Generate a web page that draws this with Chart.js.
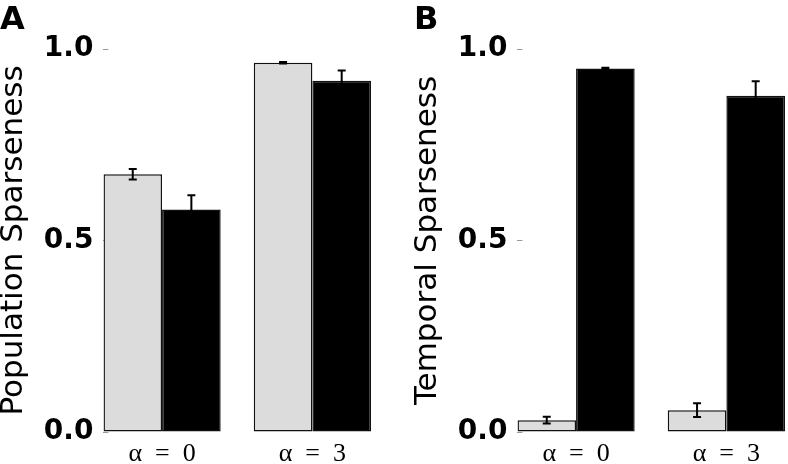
<!DOCTYPE html>
<html lang="en">
<head>
<meta charset="UTF-8">
<title>Population and temporal sparseness</title>
<script src="https://cdn.jsdelivr.net/npm/chart.js"></script>
<style>
  html, body { margin: 0; padding: 0; background: #fff; overflow: hidden; }
  body { width: 788px; height: 464px; position: relative; }
  canvas { position: absolute; top: 0; }
  #chartA { left: 0; }
  #chartB { left: 414px; }
</style>
</head>
<body>
<canvas id="chartA" width="400" height="476"></canvas>
<canvas id="chartB" width="374" height="476"></canvas>
<script>
// categories (placed at 0 and 1 on a linear x axis)
const alphaLabels = ['α\u2002=\u20020', 'α\u2002=\u20023'];
const alphaPositions = [0, 1];
const yTicks = [0, 0.5, 1.0];

// panel A: population sparseness
const popLight = [0.673, 0.964];
const popLightErr = [0.014, 0.002];
const popDark = [0.581, 0.917];
const popDarkErr = [0.037, 0.027];

// panel B: temporal sparseness
const tempLight = [0.031, 0.057];
const tempLightErr = [0.009, 0.018];
const tempDark = [0.949, 0.878];
const tempDarkErr = [0.002, 0.038];

const errorBars = {
  id: 'errorBars',
  afterDatasetsDraw(chart) {
    const ctx = chart.ctx;
    const yScale = chart.scales.y;
    chart.data.datasets.forEach((ds, i) => {
      const meta = chart.getDatasetMeta(i);
      meta.data.forEach((bar, j) => {
        const v = ds.data[j].y;
        const e = ds.errors[j];
        const top = yScale.getPixelForValue(v + e);
        const bot = yScale.getPixelForValue(v - e);
        ctx.save();
        ctx.strokeStyle = '#000';
        ctx.lineWidth = 2;
        ctx.beginPath();
        ctx.moveTo(bar.x, top); ctx.lineTo(bar.x, bot);
        ctx.moveTo(bar.x - 4, top); ctx.lineTo(bar.x + 4, top);
        ctx.moveTo(bar.x - 4, bot); ctx.lineTo(bar.x + 4, bot);
        ctx.stroke();
        ctx.restore();
      });
    });
  }
};

function points(values) {
  return values.map((v, i) => ({ x: alphaPositions[i], y: v }));
}

function makeChart(id, letter, yTitle, light, lightErr, dark, darkErr, padRight) {
  const barStyle = {
    borderColor: '#111',
    borderWidth: 1.5,
    borderSkipped: false,
    categoryPercentage: 0.78,
    barPercentage: 1.0
  };
  new Chart(document.getElementById(id), {
    type: 'bar',
    data: {
      datasets: [
        Object.assign({ data: points(light), errors: lightErr, backgroundColor: '#dcdcdc' }, barStyle),
        Object.assign({ data: points(dark), errors: darkErr, backgroundColor: '#000' }, barStyle)
      ]
    },
    options: {
      responsive: false,
      animation: false,
      layout: { padding: { left: 0, right: padRight, top: 0, bottom: 0 } },
      plugins: {
        legend: { display: false },
        tooltip: { enabled: false },
        title: {
          display: true,
          text: letter,
          align: 'start',
          color: '#000',
          font: { family: 'DejaVu Sans', size: 32, weight: 'bold', lineHeight: 1 },
          padding: { top: 5, bottom: 12 }
        }
      },
      scales: {
        x: {
          type: 'linear',
          offset: false,
          min: -0.39,
          max: 1.39,
          afterBuildTicks: s => { s.ticks = alphaPositions.map(v => ({ value: v })); },
          ticks: {
            callback: (v, i) => alphaLabels[i],
            color: '#000',
            font: { family: 'Liberation Serif', size: 26, lineHeight: 1 },
            padding: 9,
            maxRotation: 0
          },
          grid: { display: false, drawTicks: false },
          border: { display: false }
        },
        y: {
          min: 0,
          max: 1,
          afterBuildTicks: s => { s.ticks = yTicks.map(v => ({ value: v })); },
          ticks: {
            callback: v => v.toFixed(1),
            color: '#000',
            font: { family: 'DejaVu Sans', size: 28, weight: 'bold' },
            padding: 15
          },
          grid: { drawOnChartArea: false, tickLength: -5, tickColor: '#999', tickWidth: 1 },
          border: { display: false },
          title: {
            display: true,
            text: yTitle,
            color: '#000',
            font: { family: 'DejaVu Sans', size: 31, lineHeight: 0.93 },
            padding: 0
          }
        }
      }
    },
    plugins: [errorBars]
  });
}

makeChart('chartA', 'A', 'Population Sparseness', popLight, popLightErr, popDark, popDarkErr, 29);
makeChart('chartB', 'B', 'Temporal Sparseness', tempLight, tempLightErr, tempDark, tempDarkErr, 3);
</script>
</body>
</html>
